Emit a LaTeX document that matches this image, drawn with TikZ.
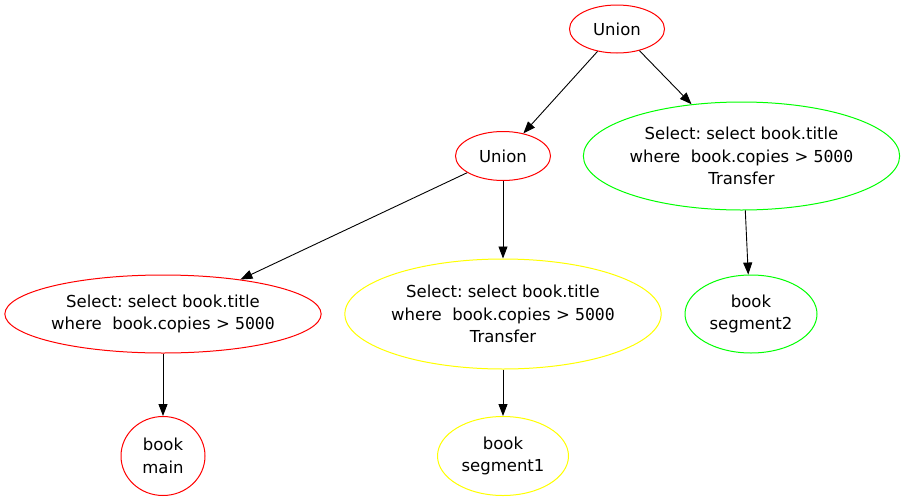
\documentclass[tikz,border=0pt]{standalone}
\usepackage{fontspec}
\setmainfont{DejaVu Sans}
\newfontfamily\digitfont{DejaVu Sans Mono}
\usetikzlibrary{shapes.geometric,arrows.meta}
\definecolor{gvred}{RGB}{255,0,0}
\definecolor{gvyellow}{RGB}{255,255,0}
\definecolor{gvgreen}{RGB}{0,255,0}
\frenchspacing
\newcommand{\selecttext}{Select: select book.title\\where\ \ book.copies > {\digitfont 5000}}
\begin{document}
\begin{tikzpicture}[x=1pt,y=-1pt,
    op/.style={draw=#1,ellipse,line width=1pt,inner sep=0pt,align=center,
      font=\fontsize{16.5}{22.5}\selectfont},
    flow/.style={line width=0.9pt,-{Triangle[length=12pt,width=9pt]}}]
  \useasboundingbox (0,0) rectangle (905,501);
  \node[op=gvred,minimum width=95pt,minimum height=48pt] (utop) at (617,29) {Union};
  \node[op=gvred,minimum width=95pt,minimum height=49pt] (umid) at (503,156) {Union};
  \node[op=gvgreen,minimum width=315pt,minimum height=108pt] (sgreen) at (741.5,156) {\selecttext\\Transfer};
  \node[op=gvred,minimum width=316pt,minimum height=78pt] (sred) at (163,314) {\selecttext};
  \node[op=gvyellow,minimum width=316pt,minimum height=110pt] (syellow) at (503,314) {\selecttext\\Transfer};
  \node[op=gvgreen,minimum width=132pt,minimum height=78pt] (bseg2) at (751,314) {book\\segment2};
  \node[op=gvred,minimum width=84pt,minimum height=79pt] (bmain) at (163,456) {book\\main};
  \node[op=gvyellow,minimum width=131pt,minimum height=79pt] (bseg1) at (503,456) {book\\segment1};
  \draw[flow] (utop.229) -- (umid.48);
  \draw[flow] (utop.-44.6) -- (sgreen.134);
  \draw[flow] (umid.205.3) -- (sred.24.7);
  \draw[flow] (umid.south) -- (syellow.north);
  \draw[flow] (sred.south) -- (bmain.north);
  \draw[flow] (syellow.south) -- (bseg1.north);
  \draw[flow] (sgreen.-86.4) -- (bseg2.94);
\end{tikzpicture}
\end{document}
